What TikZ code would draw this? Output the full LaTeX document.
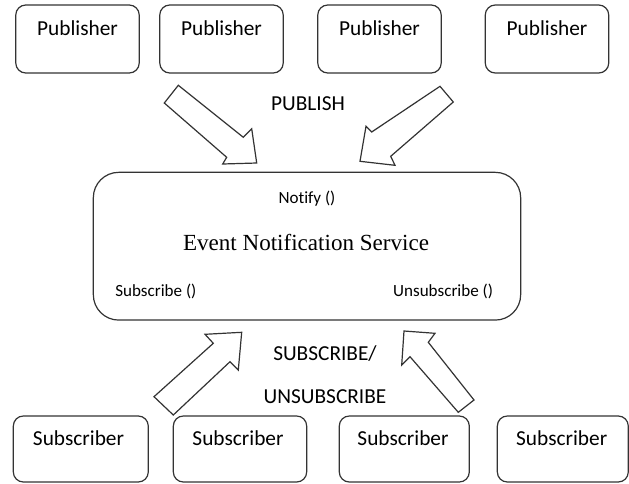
\documentclass[tikz,border=0pt]{standalone}
\usepackage{fontspec}
\setmainfont{Carlito}[Ligatures=NoCommon]
\newfontfamily\titlefont{Liberation Serif}

\tikzset{
  outline/.style={draw=black!80, line width=0.9pt},
  pubbox/.style={outline, rectangle, rounded corners=7.5pt,
    minimum width=92.6pt, minimum height=51pt, inner sep=0pt},
  subbox/.style={outline, rectangle, rounded corners=7.5pt,
    minimum height=49.5pt, inner sep=0pt},
  svcbox/.style={outline, rectangle, rounded corners=19pt,
    minimum width=320.5pt, minimum height=110.8pt, inner sep=0pt},
  boxlabel/.style={anchor=base, inner sep=0pt, font=\fontsize{16}{19}\selectfont},
  flowlabel/.style={anchor=base, inner sep=0pt, font=\fontsize{16}{19}\selectfont},
  oplabel/.style={inner sep=0pt, font=\fontsize{12.8}{15}\selectfont},
  blockarrow/.style={outline, fill=white, line join=miter},
}

\begin{document}
\begin{tikzpicture}[x=0.75pt, y=-0.75pt]
  \useasboundingbox (0,0) rectangle (629,483);

  % publishers
  \node[pubbox] (p1) at (77.5,39) {};
  \node[pubbox] (p2) at (221.5,39) {};
  \node[pubbox] (p3) at (379.5,39) {};
  \node[pubbox] (p4) at (547,39) {};
  \node[boxlabel] (p1t) at (77.5,35) {Publisher};
  \node[boxlabel] (p2t) at (221.5,35) {Publisher};
  \node[boxlabel] (p3t) at (379.5,35) {Publisher};
  \node[boxlabel] (p4t) at (547,35) {Publisher};

  % event notification service
  \node[svcbox] (ens) at (307,246.2) {};
  \node[oplabel, anchor=base] (notify) at (307,203) {Notify ()};
  \node[anchor=base, inner sep=0pt, font=\titlefont\fontsize{17.3}{20}\selectfont]
    (enst) at (306,250) {Event Notification Service};
  \node[oplabel, anchor=base west] (sub) at (115,296.7) {Subscribe ()};
  \node[oplabel, anchor=base east] (unsub) at (493.3,296.7) {Unsubscribe ()};

  % subscribers
  \node[subbox, minimum width=101.2pt] (s1) at (80.8,449) {};
  \node[subbox, minimum width=100pt]   (s2) at (240,449) {};
  \node[subbox, minimum width=97.5pt]  (s3) at (404.3,449) {};
  \node[subbox, minimum width=98.2pt]  (s4) at (562.8,449) {};
  \node[boxlabel] (s1t) at (78.5,445) {Subscriber};
  \node[boxlabel] (s2t) at (238,445) {Subscriber};
  \node[boxlabel] (s3t) at (403,445) {Subscriber};
  \node[boxlabel] (s4t) at (561.7,445) {Subscriber};

  % flow labels
  \node[flowlabel] (publish) at (308,110.7) {PUBLISH};
  \node[flowlabel] (subscr) at (325,360) {SUBSCRIBE/};
  \node[flowlabel] (unsubscr) at (325,403.3) {UNSUBSCRIBE};

  % block arrows: publishers into the service
  \draw[blockarrow] (178.3,85.3) -- (164.3,103) -- (226.7,157.3) -- (222.7,164)
    -- (256.7,163) -- (251.7,128.7) -- (243.3,137.3) -- cycle;
  \draw[blockarrow] (440,86.3) -- (453.3,102) -- (390.7,156.3) -- (395,165.3)
    -- (360,161.3) -- (366,126.3) -- (371.7,132) -- cycle;

  % block arrows: subscribers up to the service
  \draw[blockarrow] (154,396.7) -- (173.3,415) -- (230,361.7) -- (238.3,370)
    -- (241.7,332.3) -- (205,334.3) -- (213.3,343.3) -- cycle;
  \draw[blockarrow] (474,400) -- (458.3,412.3) -- (410,356.7) -- (401.7,365)
    -- (404,331) -- (435,333.3) -- (428.3,342.3) -- cycle;
\end{tikzpicture}
\end{document}
